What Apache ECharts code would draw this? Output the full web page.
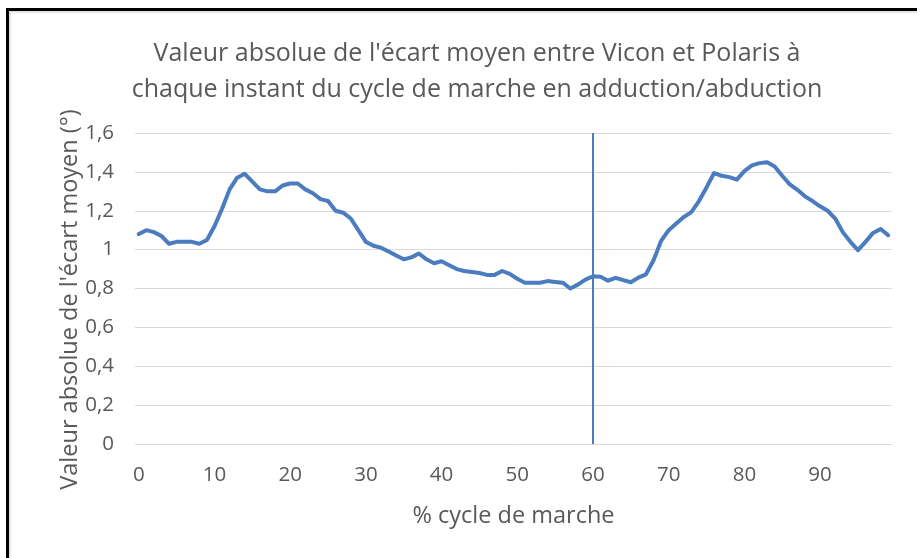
<!DOCTYPE html>
<html>
<head>
<meta charset="utf-8">
<script src="https://cdn.jsdelivr.net/npm/echarts@6/dist/echarts.min.js"></script>
<style>
  html, body { margin: 0; padding: 0; background: #fff; }
  #chart { width: 917px; height: 558px; }
  .frame {
    position: absolute;
    left: 6px;
    top: 8px;
    width: 960px;
    height: 600px;
    border-left: 3px solid #000;
    border-top: 3px solid #000;
    box-shadow: inset 2px 2px 2px rgba(0, 0, 0, 0.12);
    pointer-events: none;
  }
</style>
</head>
<body>
<div id="chart"></div>
<div class="frame"></div>
<script>
// % du cycle de marche (0..99)
const cycle = Array.from({ length: 100 }, (_, i) => String(i));

// valeur absolue de l'écart moyen (°)
const ecart = [
  1.08, 1.10, 1.09, 1.07, 1.03, 1.04, 1.04, 1.04, 1.03, 1.05,
  1.12, 1.21, 1.31, 1.37, 1.39, 1.35, 1.31, 1.30, 1.30, 1.33,
  1.34, 1.34, 1.31, 1.29, 1.26, 1.25, 1.20, 1.19, 1.16, 1.10,
  1.04, 1.02, 1.01, 0.99, 0.97, 0.95, 0.96, 0.98, 0.95, 0.93,
  0.94, 0.92, 0.90, 0.89, 0.885, 0.88, 0.87, 0.87, 0.89, 0.875,
  0.85, 0.83, 0.83, 0.83, 0.838, 0.834, 0.83, 0.80, 0.82, 0.846,
  0.863, 0.86, 0.84, 0.855, 0.843, 0.832, 0.856, 0.873, 0.945, 1.045,
  1.10, 1.134, 1.168, 1.193, 1.25, 1.32, 1.394, 1.38, 1.373, 1.36,
  1.404, 1.433, 1.445, 1.449, 1.428, 1.38, 1.336, 1.308, 1.274, 1.25,
  1.223, 1.20, 1.16, 1.09, 1.04, 0.997, 1.04, 1.086, 1.106, 1.074
];

const separation = '60';
const yMin = 0;
const yMax = 1.6;
const yStep = 0.2;

const textColor = '#595959';
const lineColor = '#4a7cbf';
const font = '"Open Sans", "Noto Sans", sans-serif';

const chart = echarts.init(document.getElementById('chart'));
chart.setOption({
  animation: false,
  title: {
    text: "Valeur absolue de l'écart moyen entre Vicon et Polaris à\nchaque instant du cycle de marche en adduction/abduction",
    left: 472,
    top: 31,
    textAlign: 'center',
    textStyle: {
      color: textColor,
      fontFamily: font,
      fontSize: 25,
      fontWeight: 'normal',
      lineHeight: 36
    }
  },
  grid: {
    left: 135,
    right: 25,
    top: 133,
    bottom: 114
  },
  xAxis: {
    type: 'category',
    data: cycle,
    boundaryGap: true,
    name: '% cycle de marche',
    nameLocation: 'middle',
    nameGap: 60,
    nameTextStyle: { color: textColor, fontFamily: font, fontSize: 23.5 },
    axisLine: { lineStyle: { color: '#d9d9d9', width: 1 } },
    axisTick: { show: false },
    axisLabel: {
      interval: 9,
      margin: 21,
      color: textColor,
      fontFamily: font,
      fontSize: 20.5
    },
    splitLine: { show: false }
  },
  yAxis: {
    type: 'value',
    min: yMin,
    max: yMax,
    interval: yStep,
    name: "Valeur absolue de l'écart moyen (°)",
    nameLocation: 'middle',
    nameGap: 53,
    nameMoveOverlap: false,
    nameTextStyle: {
      color: textColor,
      fontFamily: font,
      fontSize: 23.5,
      padding: [0, 22, 0, 0]
    },
    axisLine: { show: false },
    axisTick: { show: false },
    axisLabel: {
      margin: 21,
      color: textColor,
      fontFamily: font,
      fontSize: 20.5,
      formatter: v => String(Math.round(v * 10) / 10).replace('.', ',')
    },
    splitLine: { lineStyle: { color: '#d9d9d9', width: 1 } }
  },
  series: [
    {
      type: 'line',
      data: ecart,
      symbol: 'none',
      smooth: false,
      lineStyle: { color: lineColor, width: 4, join: 'round', cap: 'round' },
      markLine: {
        silent: true,
        symbol: 'none',
        label: { show: false },
        lineStyle: { color: lineColor, width: 2, type: 'solid' },
        data: [{ xAxis: separation }]
      }
    }
  ]
});
</script>
</body>
</html>
